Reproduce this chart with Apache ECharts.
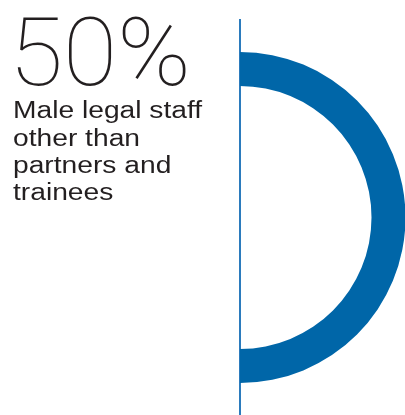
<!DOCTYPE html>
<html>
<head>
<meta charset="utf-8">
<script src="https://cdn.jsdelivr.net/npm/echarts@6/dist/echarts.min.js"></script>
<style>
html,body{margin:0;padding:0;background:#fff;}
#chart{width:405px;height:415px;}
</style>
</head>
<body>
<div id="chart"></div>
<script>
// Data
var categories = ['Male', 'Other'];
var shareValues = [50, 50];
var headline = '50%';
var captionLines = ['Male legal staff', 'other than', 'partners and', 'trainees'];

var chart = echarts.init(document.getElementById('chart'), null, {renderer: 'canvas'});

var captionGraphics = captionLines.map(function (t, i) {
  return {
    type: 'text',
    x: 13,
    y: 112 + i * 27.3,
    scaleX: 1.2,
    silent: true,
    style: {
      text: t,
      font: '23.5px "Liberation Sans", Arial, sans-serif',
      fill: '#231f20',
      align: 'left',
      verticalAlign: 'middle'
    }
  };
});

var option = {
  animation: false,
  backgroundColor: '#ffffff',
  series: [{
    type: 'pie',
    silent: true,
    center: [240, 217.5],
    radius: [131.5, 165.5],
    startAngle: 90,
    clockwise: true,
    label: {show: false},
    labelLine: {show: false},
    emphasis: {disabled: true},
    data: categories.map(function (c, i) {
      return {
        name: c,
        value: shareValues[i],
        itemStyle: {color: i === 0 ? '#0066a8' : 'rgba(0,0,0,0)'}
      };
    })
  }],
  graphic: [
    {
      type: 'line',
      silent: true,
      shape: {x1: 240, y1: 19, x2: 240, y2: 415},
      style: {stroke: '#2b7bbd', lineWidth: 2}
    },
    {
      type: 'text',
      x: 9,
      y: 61,
      scaleX: 1.04,
      silent: true,
      style: {
        text: headline,
        font: '100 95px Roboto, "Open Sans", sans-serif',
        fill: '#231f20',
        align: 'left',
        verticalAlign: 'middle'
      }
    }
  ].concat(captionGraphics)
};
chart.setOption(option);
</script>
</body>
</html>
